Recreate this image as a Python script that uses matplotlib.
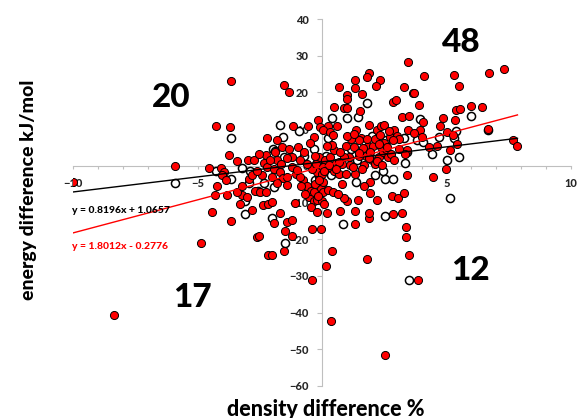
import numpy as np
import matplotlib.pyplot as plt
from matplotlib.ticker import MultipleLocator

plt.rcParams['font.family'] = ['Lato', 'DejaVu Sans']

# open circles (x: density difference %, y: energy difference kJ/mol)
open_x = [-5.89, -4.27, -3.65, -3.65, -3.2, -3.09, -3.09, -2.94, -2.9, -2.58, -2.33, -1.97, -1.9,
          -1.69, -1.56, -1.91, -2.02, -1.48, -1.53, -0.93, -0.73, -0.31, -0.19, 0.24, 0.42, 0.18,
          0.36, 1.02, 1.44, 1.8, 1.17, 1.39, 1.35, 0.85, 2.14, 2.46, 2.52, 2.86, 2.52, 2.58, 2.0,
          3.29, 3.4, 3.35, 3.81, 3.95, 4.07, 4.41, 4.69, 5.03, 5.13, 5.3, 5.39, 5.52, 6.0, 6.66,
          3.5, -0.28, 0.0]
open_y = [-4.7, -1.5, 7.6, -3.7, -0.5, -13.1, -9.5, -4.7, -1.5, -6.9, -4.7, 4.6, 4.0,
          11.1, 7.8, -5.8, -14.2, -21.1, 2.4, 9.4, 2.6, 4.6, 1.0, 7.7, 13.0, 2.8,
          -2.4, 13.1, 13.4, 17.2, 4.5, 1.5, -4.5, -15.9, -2.6, -1.5, -3.7, -3.7, -13.8, 6.9, 8.0,
          7.7, 3.7, 0.7, 6.9, 12.7, 6.5, 3.2, 7.8, 1.6, -8.7, 7.6, 9.5, 2.4, 13.5, 9.7,
          -31.0, -4.0, -4.9]

# filled red circles
red_x = [-10.0, -8.37, -5.89, -4.87, -3.65, -4.27, -3.69, -3.72, -4.53, -4.07, -3.95, -4.2, -4.3,
         -4.42, -3.65, -3.4, -2.98, -2.72, -3.8, -3.22, -3.01, -2.95, -2.69, -2.48, -2.35, -2.2,
         -2.24, -2.33, -2.21, -2.39, -2.02, -2.24, -2.15, -1.99, -1.69, -1.94, -2.61, -2.54, -2.15,
         -2.02, -1.51, -1.47, -1.42, -1.2, -1.22, -1.51, -1.34, -1.16, -1.8, -1.6, -1.31, -1.2,
         -1.8, -1.94, -1.69, -1.57, -1.42, -1.8, -0.98, -0.9, -0.73, -0.58, -0.34, -0.16, -0.09,
         0.24, -0.4, -0.06, -0.42, 0.16, 0.39, 0.36, 0.21, -0.76, -0.61, -0.53, -0.34, -0.19, 0.0,
         -0.46, -0.28, -0.13, -0.04, 0.06, -0.22, -0.39, -0.13, -0.24, 0.13, 0.33, 0.5, 0.58, 0.47,
         0.67, 0.4, 0.61, 0.5, 0.68, 0.88, 1.01, 0.99, 0.99, 1.32, 1.35, 1.54, 1.62, 1.32, 1.87,
         1.8, 2.31, 2.18, 0.95, 1.08, 1.11, 1.32, 0.8, 0.95, 1.02, 0.73, 0.88, 1.32, 1.44, 1.32,
         1.88, 1.88, 1.91, 1.91, 1.8, 2.55, 1.69, 1.77, 1.84, 1.87, 1.57, 2.06, 2.14, 2.21, 2.31,
         2.36, 2.51, 2.28, 2.43, 2.58, 2.66, 2.73, 2.85, 2.98, 2.88, 3.0, 3.22, 3.29, 3.45, 3.48,
         3.64, 3.7, 4.09, 3.89, 4.04, 3.47, 3.92, 3.4, 3.35, 3.4, 2.83, 3.06, 2.85, 3.2, 3.28,
         3.37, 3.37, 3.5, 3.86, 4.47, 4.63, 4.73, 4.84, 5.03, 5.15, 5.25, 5.43, 5.36, 5.4, 5.55,
         5.52, 5.31, 6.0, 6.41, 6.71, 6.66, 7.3, 7.67, 7.82, 4.96, 4.3, 4.0, 3.7, 3.1,
         1.17, 1.3, 1.47, 1.66, 1.91, 1.99, 2.14, 2.36, 2.51, 2.77, 2.85, 1.47, 1.25, 0.88, 0.73,
         0.06, 0.25, 0.0, 0.1, -0.13, 0.03, -0.31, -0.16, 0.25, 0.43, 0.65,
         -4.0, -3.87, -3.43, -3.2, -2.83, -2.61, -2.54, -2.09, -1.87, -1.65, -1.42, -1.2, -1.05,
         -0.9, -0.83,
         0.05, 0.32, 0.45, 1.0, 1.3, 1.8, 2.3, 2.6, 1.5, 1.9, 2.2, 0.7, 0.3, 0.55, 1.6, 2.4,
         2.9, 3.1, 2.7, 0.2, -0.5, -0.3, -0.6, -1.0, -1.4, -0.7, -0.45, -0.2, 0.1, 0.8, 1.7,
         2.2, -2.8, -3.3, -1.1]
red_y = [-4.5, -40.7, -0.1, -21.1, 23.2, 10.9, 10.6, 3.0, -0.6, -0.5, -1.7, -5.4, -7.9,
         -12.7, -15.0, 1.3, 1.6, 1.6, -7.9, -7.9, -8.6, -3.6, -6.9, -7.2, -10.6, 7.7,
         3.0, 0.7, -0.4, -2.4, -3.1, -7.2, -10.4, -9.9, -12.9, -15.7, -19.5, -19.2, -24.2,
         -24.2, -23.2, -17.7, -15.4, -14.8, -19.1, 22.0, 20.1, 10.8, 6.9, 5.1, 4.7, 2.4,
         1.5, -0.8, -1.7, -3.3, -3.1, -4.7, 5.1, 1.5, 3.7, 10.8, 7.8, 12.6, 10.6,
         10.8, -17.2, -17.2, -31.0, -27.3, -23.2, -42.3, -12.9, -4.0, -5.4, -8.6, -9.5, -9.3, -9.5,
         -6.9, -4.9, -3.1, -6.3, -4.5, -1.7, -0.8, 2.4, 0.5, 1.5, 2.4, 4.2, 0.8, -1.3,
         -2.2, 5.6, 10.8, 15.9, 21.5, 15.8, 15.8, 19.2, 18.3, 21.3, 9.8, 14.9, 19.7, 23.5, 25.2,
         24.2, 23.5, 21.7, 5.3, 2.4, 0.3, -2.2, 0.5, -2.2, -9.5, -12.2, -8.8, -15.9, -9.3, -12.2,
         -14.3, -12.9, -7.5, -4.5, -25.4, -51.6, 0.1, 2.8, 5.4, 11.0, 7.7, 5.4, 7.4, 9.7, 8.3,
         10.8, 11.0, 2.4, 3.7, 4.6, 2.4, 7.8, 17.4, 17.9, 9.7, 8.0, 13.3, 21.5, 28.2, 13.5,
         19.9, 19.9, 24.4, 16.5, 11.9, 9.7, 9.7, 4.4, 3.3, -2.6, -8.1, -8.8, -13.1, -12.9, -7.5,
         -16.6, -19.5, -24.2, -31.2, -3.1, 5.3, 10.8, 12.9, 9.2, 4.2, 8.3, 6.0, 12.6, 15.1, 15.6,
         21.7, 24.8, 16.2, 16.0, 25.3, 10.1, 26.3, 6.9, 5.5, -0.8, 5.1, 7.8, 8.9, 7.4,
         7.4, 5.1, 6.9, 4.8, 3.7, 1.5, 0.5, 5.1, 6.2, 3.1, 6.9, 2.8, -0.4, 2.4, 3.7,
         -0.4, -0.4, -2.2, -1.3, -4.0, -7.2, -7.2, -8.1, -6.7, -7.2, -7.7,
         -2.6, -4.0, -7.2, -5.4, -2.6, -1.3, 3.1, 1.5, 3.7, 0.5, 2.2, -0.4, -2.2,
         -3.1, -5.4,
         9.8, 9.3, 8.4, 8.0, 8.6, 7.2, 6.0, 5.2, 3.5, 2.2, 1.2, 1.0, 0.3, -0.9, -1.0, 0.2,
         1.5, 4.5, 9.5, 5.5, 6.2, 2.8, 0.6, -1.2, -5.2, -7.8, -11.2, -12.5, -10.5, -5.0, -5.6,
         -9.2, -12.0, -10.5, -10.2]

# linear trendlines (slope, intercept) as printed on the chart
fit_black = (0.8196, 1.0657)
fit_red = (1.8012, -0.2776)
fit_xrange = [-10, 7.85]

# quadrant counts
quad_labels = ['48', '20', '17', '12']
quad_pos = [(5.6, 33.5), (-6.05, 18.5), (-5.2, -35.9), (5.95, -28.4)]

fig = plt.figure(figsize=(5.79, 4.18), dpi=100)
ax = fig.add_axes([73/579, 1-386/418, 498/579, 367/418])
ax.set_xlim(-10, 10)
ax.set_ylim(-60, 40)

ax.scatter(open_x, open_y, s=34, facecolor='white', edgecolor='black', linewidth=1.1, zorder=2)
ax.scatter(red_x, red_y, s=34, facecolor='#ff0000', edgecolor='black', linewidth=0.7, zorder=2)

xx = np.array(fit_xrange)
ax.plot(xx, fit_black[0] * xx + fit_black[1], color='black', lw=1.0, zorder=3)
ax.plot(xx, fit_red[0] * xx + fit_red[1], color='#ff0000', lw=1.0, zorder=3)

ax.text(-10.05, -12.2, 'y = 0.8196x + 1.0657', fontsize=7.5, fontweight='black',
        color='black', va='center', ha='left', zorder=4)
ax.text(-10.05, -22.1, 'y = 1.8012x - 0.2776', fontsize=7.5, fontweight='black',
        color='#ff0000', va='center', ha='left', zorder=4)

for lab, (qx, qy) in zip(quad_labels, quad_pos):
    ax.text(qx, qy, lab, fontsize=24, fontweight='black', ha='center', va='center', zorder=4)

# axes crossing at origin
for s in ['top', 'right']:
    ax.spines[s].set_visible(False)
for s in ['left', 'bottom']:
    ax.spines[s].set_position(('data', 0))
    ax.spines[s].set_color('#bfbfbf')
    ax.spines[s].set_zorder(1)
ax.set_axisbelow(True)

ax.xaxis.set_major_locator(MultipleLocator(5))
ax.xaxis.set_minor_locator(MultipleLocator(1))
ax.yaxis.set_major_locator(MultipleLocator(10))
ax.tick_params(axis='both', which='both', direction='out', color='#bfbfbf', width=0.8,
               labelsize=8, labelcolor='#262626')
ax.tick_params(axis='x', which='both', length=2.5, pad=6)
ax.tick_params(axis='y', which='major', length=3.5, pad=6)
for t in ax.get_xticklabels() + ax.get_yticklabels():
    t.set_fontweight('black')

fig.text(29/579, 1-190/418, 'energy difference kJ/mol', rotation=90, fontsize=14,
         fontweight='black', ha='center', va='center')
fig.text(326/579, 1-409/418, 'density difference %', fontsize=15.5,
         fontweight='black', ha='center', va='center')

fig.savefig('out.png', dpi=100)
